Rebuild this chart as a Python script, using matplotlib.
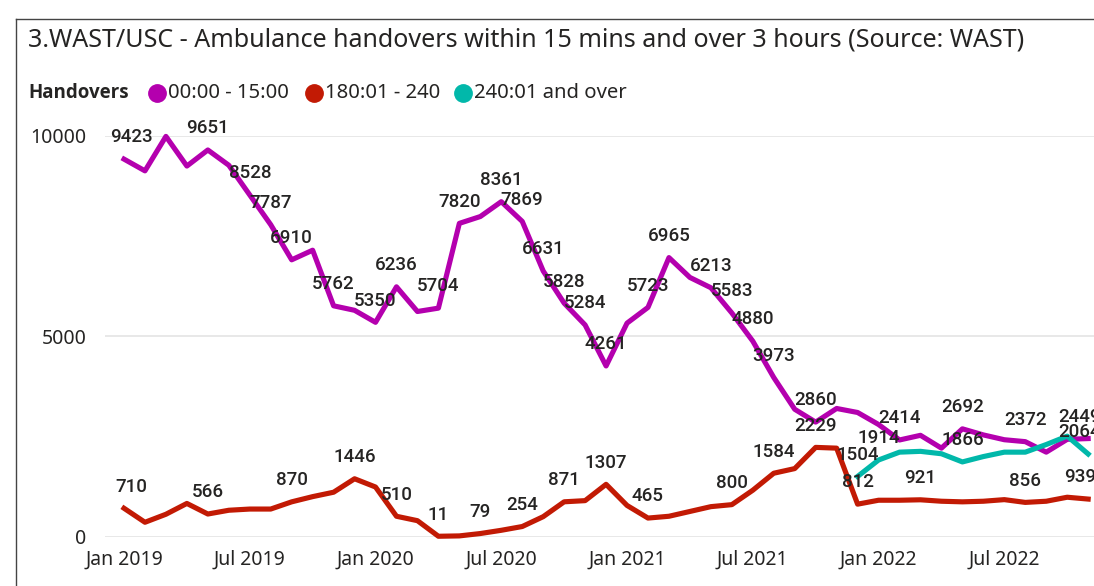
import matplotlib
matplotlib.use("Agg")
import matplotlib.pyplot as plt
from matplotlib.lines import Line2D

# Data (monthly, Jan 2019 - Nov 2022)

tick_pos = [0, 6, 12, 18, 24, 30, 36, 42]
tick_labels = ['Jan 2019', 'Jul 2019', 'Jan 2020', 'Jul 2020',
               'Jan 2021', 'Jul 2021', 'Jan 2022', 'Jul 2022']

within_15 = [9423, 9130, 9990, 9250, 9651, 9270, 8528, 7787, 6910, 7150,
             5762, 5650, 5350, 6236, 5620, 5704, 7820, 7990, 8361, 7869,
             6631, 5828, 5284, 4261, 5330, 5723, 6965, 6470, 6213, 5583,
             4880, 3973, 3180, 2860, 3200, 3100, 2800, 2414, 2530, 2210,
             2692, 2540, 2420, 2372, 2110, 2430, 2449]

h3_to_4 = [710, 360, 560, 830, 566, 660, 690, 690, 870, 1000,
           1110, 1446, 1240, 510, 400, 11, 20, 79, 160, 254,
           500, 871, 900, 1307, 780, 465, 510, 630, 750, 800,
           1160, 1584, 1700, 2229, 2210, 812, 910, 910, 921, 885,
           870, 885, 925, 856, 885, 985, 939]

# 240:01 and over starts Dec 2021 (index 35)
over_4_start = 35
over_4 = [1504, 1914, 2110, 2130, 2070, 1866, 2000, 2110, 2110, 2300, 2510, 2064]

# which points carry a data label
lab_15 = [0, 4, 6, 7, 8, 10, 12, 13, 15, 16, 18, 19, 20, 21, 22, 23, 25, 26,
          28, 29, 30, 31, 33, 37, 40, 43, 46]
lab_34 = [0, 4, 8, 11, 13, 15, 17, 19, 21, 23, 25, 29, 31, 33, 35, 38, 43, 46]
lab_4 = [35, 36, 40, 46]

series_names = ['00:00 - 15:00', '180:01 - 240', '240:01 and over']
colors = ['#B400AE', '#C21A04', '#01B8AA']

# Plot

W, H = 1094, 586
fig = plt.figure(figsize=(W / 100, H / 100), dpi=100)

left, right, top, bottom = 105, 1094, 136, 536.7
ax = fig.add_axes([left / W, (H - bottom) / H, (right - left) / W, (bottom - top) / H])

x15 = list(range(len(within_15)))
x34 = list(range(len(h3_to_4)))
x4 = list(range(over_4_start, over_4_start + len(over_4)))

ax.plot(x15, within_15, color=colors[0], lw=3.7, clip_on=False, zorder=3)
ax.plot(x34, h3_to_4, color=colors[1], lw=3.7, clip_on=False, zorder=3)
ax.plot(x4, over_4, color=colors[2], lw=3.7, clip_on=False, zorder=4)

lab_font = dict(family='Roboto', size=13.5, weight='medium', color='#252423')
last = len(within_15) - 1


def label(x, y):
    dx = 5 if x == 0 else (-6 if x == last else 0)
    ax.annotate(str(y), (x, y), xytext=(dx, 12), textcoords='offset points',
                ha='center', va='baseline', annotation_clip=False, zorder=5, **lab_font)


for i in lab_15:
    label(x15[i], within_15[i])
for i in lab_34:
    label(x34[i], h3_to_4[i])
for i in lab_4:
    label(i, over_4[i - over_4_start])

x0 = 124
step = 20.96
ax.set_xlim(-(x0 - left) / step, (right - x0) / step)
ax.set_ylim(0, 10000)
ax.set_yticks([0, 5000, 10000])
ax.set_xticks(tick_pos)
ax.set_xticklabels(tick_labels)
ax.tick_params(length=0, labelsize=14, labelcolor='#252423')
ax.tick_params(axis='y', pad=13.5)
ax.tick_params(axis='x', pad=9)
for lbl in ax.get_xticklabels() + ax.get_yticklabels():
    lbl.set_family('Noto Sans')
ax.grid(axis='y', color='#E6E6E6', lw=1.3)
ax.set_axisbelow(True)
for s in ax.spines.values():
    s.set_visible(False)

# Title, legend and frame
fig.text(28 / W, 1 - 40 / H, '3.WAST/USC - Ambulance handovers within 15 mins and over 3 hours (Source: WAST)',
         family='Noto Sans', size=18.05, color='#252423', va='center', ha='left')

ly = 1 - 93 / H
fig.text(28 / W, ly, 'Handovers', family='Open Sans', weight='bold', size=13.5,
         color='#252423', va='center', ha='left')
for cx, name, c in zip([157, 314, 463], series_names, colors):
    fig.add_artist(Line2D([cx / W], [ly], marker='o', markersize=12.5, color=c,
                          transform=fig.transFigure))
    fig.text((cx + 11) / W, ly, name, family='Noto Sans', size=14.6, color='#252423',
             va='center', ha='left')

fig.add_artist(Line2D([16 / W, 1], [1 - 19 / H, 1 - 19 / H], color='#444444', lw=1,
                      transform=fig.transFigure))
fig.add_artist(Line2D([16 / W, 16 / W], [0, 1 - 19 / H], color='#444444', lw=1,
                      transform=fig.transFigure))

fig.savefig('out.png', dpi=100)
